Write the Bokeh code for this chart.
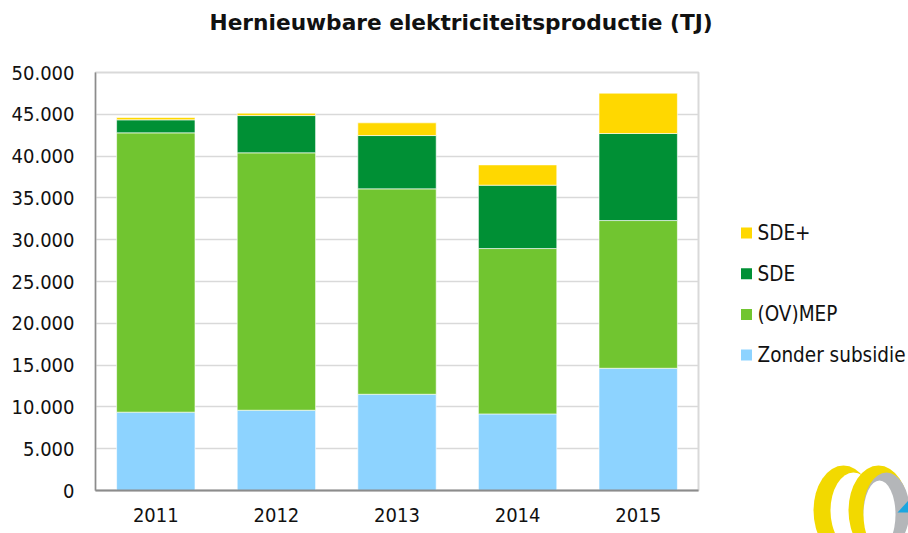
from bokeh.plotting import figure
from bokeh.layouts import row, column
from bokeh.models import (ColumnDataSource, FactorRange, Range1d, FixedTicker, Title)
from bokeh.core.properties import value
from bokeh.embed import file_html
from bokeh.resources import INLINE

# ---- data ----
years = ["2011", "2012", "2013", "2014", "2015"]
zonder_subsidie = [9370, 9600, 11510, 9160, 14620]
ov_mep = [33410, 30790, 24570, 19780, 17670]
sde = [1560, 4460, 6380, 7580, 10410]
sde_plus = [280, 290, 1520, 2430, 4830]

series_keys = ["zonder", "mep", "sde", "sdeplus"]
series_names = ["Zonder subsidie", "(OV)MEP", "SDE", "SDE+"]
series_colors = ["#8DD3FF", "#71C530", "#009035", "#FFD800"]

y_ticks = [0, 5000, 10000, 15000, 20000, 25000, 30000, 35000, 40000, 45000, 50000]
y_tick_labels = ["0", "5.000", "10.000", "15.000", "20.000", "25.000",
                 "30.000", "35.000", "40.000", "45.000", "50.000"]
title_text = "Hernieuwbare elektriciteitsproductie (TJ)"

# decorative logo (bottom right), in the side panel's pixel space
logo_x = [123, 133, 158, 166, 159]
logo_y = [23, 23, 23, 23, 19]
logo_w = [60, 46, 60, 46, 32]
logo_h = [90, 76, 90, 76, 68]
logo_color = ["#F2D900", "white", "#F2D900", "#B4B6B9", "white"]
tri_x = [177, 188, 188]
tri_y = [21, 33, 21]

source = ColumnDataSource(dict(year=years, zonder=zonder_subsidie, mep=ov_mep,
                               sde=sde, sdeplus=sde_plus))

TICK_FONT = "DejaVu Sans Condensed"

p = figure(width=720, height=533, x_range=FactorRange(factors=years),
           y_range=Range1d(0, 50000), output_backend="svg",
           toolbar_location=None, min_border_left=95, min_border_right=22,
           min_border_top=72, min_border_bottom=43)
p.background_fill_color = "white"
p.border_fill_color = "white"

renderers = p.vbar_stack(series_keys, x="year", width=0.65, source=source,
                         fill_color=series_colors, line_color="white",
                         line_alpha=0.6, line_width=1)

# spacer (closest to the frame), then the title above it
spacer = Title(text=" ", text_font_size="1px", standoff=35)
p.add_layout(spacer, "above")
t = Title(text=title_text, align="left", offset=114, standoff=0,
          text_font="DejaVu Sans", text_font_style="bold",
          text_font_size="21.7px", text_color="#111111")
p.add_layout(t, "above")

# axes
ticker = FixedTicker(ticks=y_ticks)
p.yaxis.ticker = ticker
p.yaxis.major_label_overrides = {v: s for v, s in zip(y_ticks, y_tick_labels)}
for ax in (p.xaxis[0], p.yaxis[0]):
    ax.major_tick_line_color = None
    ax.minor_tick_line_color = None
    ax.major_tick_out = 0
    ax.major_tick_in = 0
    ax.minor_tick_out = 0
    ax.major_label_text_font = TICK_FONT
    ax.major_label_text_font_size = "20px"
    ax.major_label_text_color = "#111111"
    ax.axis_line_color = "#8C8C8C"
p.yaxis.axis_line_width = 1.5
p.xaxis.axis_line_width = 2
p.yaxis.major_label_standoff = 21
p.xaxis.major_label_standoff = 17

p.xgrid.grid_line_color = None
p.ygrid.ticker = ticker
p.ygrid.grid_line_color = "#D9D9D9"
p.ygrid.grid_line_width = 1.5
p.outline_line_color = "#D9D9D9"
p.outline_line_width = 2

# ---- side panel with legend and logo ----
q = figure(width=188, height=533, x_range=Range1d(0, 188), y_range=Range1d(0, 533),
           output_backend="svg", toolbar_location=None,
           min_border_left=0, min_border_right=0, min_border_top=0,
           min_border_bottom=0)
q.axis.visible = False
q.grid.visible = False
q.outline_line_color = None
q.background_fill_color = "white"
q.border_fill_color = "white"

# legend, top to bottom: SDE+, SDE, (OV)MEP, Zonder subsidie
leg_names = list(reversed(series_names))
leg_colors = list(reversed(series_colors))
leg_top, leg_pitch = 300.5, 40.7
leg_y = [leg_top - i * leg_pitch for i in range(len(leg_names))]
q.scatter(x=[26] * len(leg_names), y=leg_y, marker="square", size=11,
          fill_color=leg_colors, line_color=None)
q.text(x=[37] * len(leg_names), y=leg_y, text=leg_names,
       text_font=value(TICK_FONT), text_font_size="20.5px",
       text_color="#111111", text_baseline="middle", text_align="left")

# logo
q.ellipse(x=logo_x, y=logo_y, width=logo_w, height=logo_h,
          fill_color=logo_color, line_color=None)
q.patch(x=tri_x, y=tri_y, fill_color="#1BA6E0", line_color=None)

layout = row(p, column(q), spacing=0)
open("out.html", "w").write(file_html(layout, INLINE))
